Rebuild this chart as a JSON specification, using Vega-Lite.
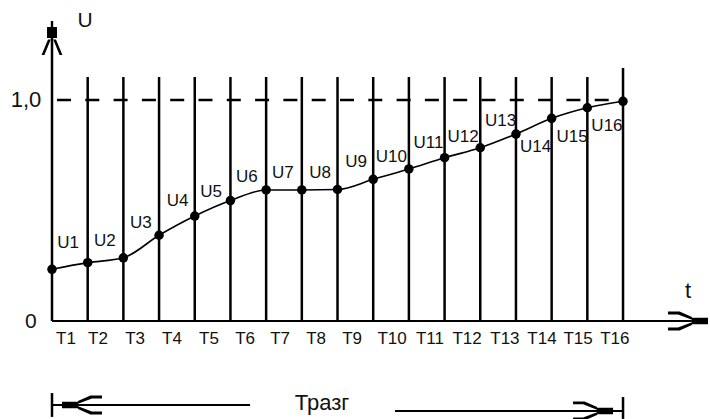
{
  "$schema": "https://vega.github.io/schema/vega-lite/v6.json",
  "width": 710,
  "height": 419,
  "autosize": "none",
  "padding": 0,
  "background": "white",
  "config": {"view": {"stroke": null}, "text": {"font": "Liberation Sans", "color": "#111111"}},
  "datasets": {
    "curve": [
      {"t": 0, "u": 0.234}, {"t": 1, "u": 0.264}, {"t": 2, "u": 0.286}, {"t": 3, "u": 0.388},
      {"t": 4, "u": 0.475}, {"t": 5, "u": 0.545}, {"t": 6, "u": 0.593}, {"t": 7, "u": 0.593},
      {"t": 8, "u": 0.595}, {"t": 9, "u": 0.641}, {"t": 10, "u": 0.688}, {"t": 11, "u": 0.739},
      {"t": 12, "u": 0.784}, {"t": 13, "u": 0.846}, {"t": 14, "u": 0.917}, {"t": 15, "u": 0.965},
      {"t": 16, "u": 0.994}
    ],
    "ulab": [
      {"t": 0.45, "u": 0.353, "lab": "U1"}, {"t": 1.48, "u": 0.362, "lab": "U2"},
      {"t": 2.49, "u": 0.443, "lab": "U3"}, {"t": 3.52, "u": 0.545, "lab": "U4"},
      {"t": 4.46, "u": 0.585, "lab": "U5"}, {"t": 5.46, "u": 0.652, "lab": "U6"},
      {"t": 6.47, "u": 0.671, "lab": "U7"}, {"t": 7.51, "u": 0.670, "lab": "U8"},
      {"t": 8.52, "u": 0.721, "lab": "U9"}, {"t": 9.51, "u": 0.741, "lab": "U10"},
      {"t": 10.55, "u": 0.805, "lab": "U11"}, {"t": 11.52, "u": 0.833, "lab": "U12"},
      {"t": 12.57, "u": 0.905, "lab": "U13"}, {"t": 13.55, "u": 0.787, "lab": "U14"},
      {"t": 14.57, "u": 0.833, "lab": "U15"}, {"t": 15.55, "u": 0.884, "lab": "U16"}
    ],
    "tlab": [
      {"t": 0.39, "u": -0.081, "lab": "T1"}, {"t": 1.29, "u": -0.081, "lab": "T2"},
      {"t": 2.33, "u": -0.081, "lab": "T3"}, {"t": 3.36, "u": -0.081, "lab": "T4"},
      {"t": 4.40, "u": -0.081, "lab": "T5"}, {"t": 5.41, "u": -0.081, "lab": "T6"},
      {"t": 6.39, "u": -0.081, "lab": "T7"}, {"t": 7.40, "u": -0.081, "lab": "T8"},
      {"t": 8.41, "u": -0.081, "lab": "T9"}, {"t": 9.53, "u": -0.081, "lab": "T10"},
      {"t": 10.59, "u": -0.081, "lab": "T11"}, {"t": 11.63, "u": -0.081, "lab": "T12"},
      {"t": 12.69, "u": -0.081, "lab": "T13"}, {"t": 13.73, "u": -0.081, "lab": "T14"},
      {"t": 14.74, "u": -0.081, "lab": "T15"}, {"t": 15.77, "u": -0.081, "lab": "T16"}
    ],
    "grid": [
      {"t": 0, "u": 0, "u2": 1.281}, {"t": 1, "u": 0, "u2": 1.104}, {"t": 2, "u": 0, "u2": 1.104},
      {"t": 3, "u": 0, "u2": 1.104}, {"t": 4, "u": 0, "u2": 1.104}, {"t": 5, "u": 0, "u2": 1.104},
      {"t": 6, "u": 0, "u2": 1.104}, {"t": 7, "u": 0, "u2": 1.104}, {"t": 8, "u": 0, "u2": 1.104},
      {"t": 9, "u": 0, "u2": 1.104}, {"t": 10, "u": 0, "u2": 1.104}, {"t": 11, "u": 0, "u2": 1.104},
      {"t": 12, "u": 0, "u2": 1.104}, {"t": 13, "u": 0, "u2": 1.104}, {"t": 14, "u": 0, "u2": 1.104},
      {"t": 15, "u": 0, "u2": 1.104}, {"t": 16, "u": 0, "u2": 1.145},
      {"t": 0, "u": -0.326, "u2": -0.434}, {"t": 16, "u": -0.344, "u2": -0.443}
    ],
    "hlines": [
      {"t": 0, "t2": 17.93, "u": 0},
      {"t": 0, "t2": 5.55, "u": -0.380},
      {"t": 9.61, "t2": 16, "u": -0.407}
    ],
    "dash": [{"t": 0.14, "t2": 16, "u": 1}],
    "arrows": [
      {"t": 17.82, "u": 0, "ang": 0},
      {"t": 0.84, "u": -0.380, "ang": 180},
      {"t": 15.16, "u": -0.407, "ang": 0}
    ],
    "yarrow": [{"t": 0, "u": 1.281}],
    "text20": [
      {"t": 0.925, "u": 1.357, "lab": "U"},
      {"t": -0.59, "u": -0.005, "lab": "0"}
    ],
    "text22": [
      {"t": -0.73, "u": 1.0, "lab": "1,0"},
      {"t": 17.82, "u": 0.136, "lab": "t"},
      {"t": 7.565, "u": -0.371, "lab": "Тразг"}
    ]
  },
  "encoding": {
    "x": {"field": "t", "type": "quantitative", "scale": {"domain": [-1.457, 18.437], "nice": false, "zero": false}, "axis": null},
    "y": {"field": "u", "type": "quantitative", "scale": {"domain": [-0.4434, 1.4525], "nice": false, "zero": false}, "axis": null}
  },
  "layer": [
    {
      "data": {"name": "grid"},
      "mark": {"type": "rule", "color": "black", "strokeWidth": 2.5},
      "encoding": {"y2": {"field": "u2"}}
    },
    {
      "data": {"name": "hlines"},
      "mark": {"type": "rule", "color": "black", "strokeWidth": 2},
      "encoding": {"x2": {"field": "t2"}}
    },
    {
      "data": {"name": "dash"},
      "mark": {"type": "rule", "color": "black", "strokeWidth": 2.5, "strokeDash": [14, 14.3]},
      "encoding": {"x2": {"field": "t2"}}
    },
    {
      "data": {"name": "curve"},
      "mark": {"type": "line", "color": "black", "strokeWidth": 1.6, "interpolate": "monotone"},
      "encoding": {}
    },
    {
      "data": {"name": "curve"},
      "mark": {"type": "point", "filled": true, "color": "black", "size": 90, "opacity": 1},
      "encoding": {}
    },
    {
      "data": {"name": "arrows"},
      "mark": {"type": "point", "filled": true, "color": "black", "opacity": 1, "size": 1600, "strokeWidth": 0,
        "shape": "M0.2,-0.16L1,-0.16L1,0.16L0.2,0.16Z M-1,-0.47L-0.42,-0.47L0.2,-0.2L0.2,-0.06L-0.5,-0.33L-1,-0.33Z M-1,0.47L-0.42,0.47L0.2,0.2L0.2,0.06L-0.5,0.33L-1,0.33Z"},
      "encoding": {"angle": {"field": "ang", "type": "quantitative", "scale": null}}
    },
    {
      "data": {"name": "yarrow"},
      "mark": {"type": "point", "filled": true, "color": "black", "opacity": 1, "size": 1600, "strokeWidth": 0,
        "shape": "M-0.25,-0.55L0.25,-0.55L0.25,0L-0.25,0Z M-0.06,-0.85L0.06,-0.85L0.06,-0.55L-0.06,-0.55Z M-0.2,0.08L-0.06,0.08L-0.38,0.85L-0.52,0.85Z M0.2,0.08L0.06,0.08L0.38,0.85L0.52,0.85Z"},
      "encoding": {}
    },
    {
      "data": {"name": "ulab"},
      "mark": {"type": "text", "fontSize": 17, "baseline": "middle", "align": "center"},
      "encoding": {"text": {"field": "lab"}}
    },
    {
      "data": {"name": "tlab"},
      "mark": {"type": "text", "fontSize": 17, "baseline": "middle", "align": "center"},
      "encoding": {"text": {"field": "lab"}}
    },
    {
      "data": {"name": "text20"},
      "mark": {"type": "text", "fontSize": 21, "baseline": "middle", "align": "center"},
      "encoding": {"text": {"field": "lab"}}
    },
    {
      "data": {"name": "text22"},
      "mark": {"type": "text", "fontSize": 22, "baseline": "middle", "align": "center"},
      "encoding": {"text": {"field": "lab"}}
    }
  ]
}
